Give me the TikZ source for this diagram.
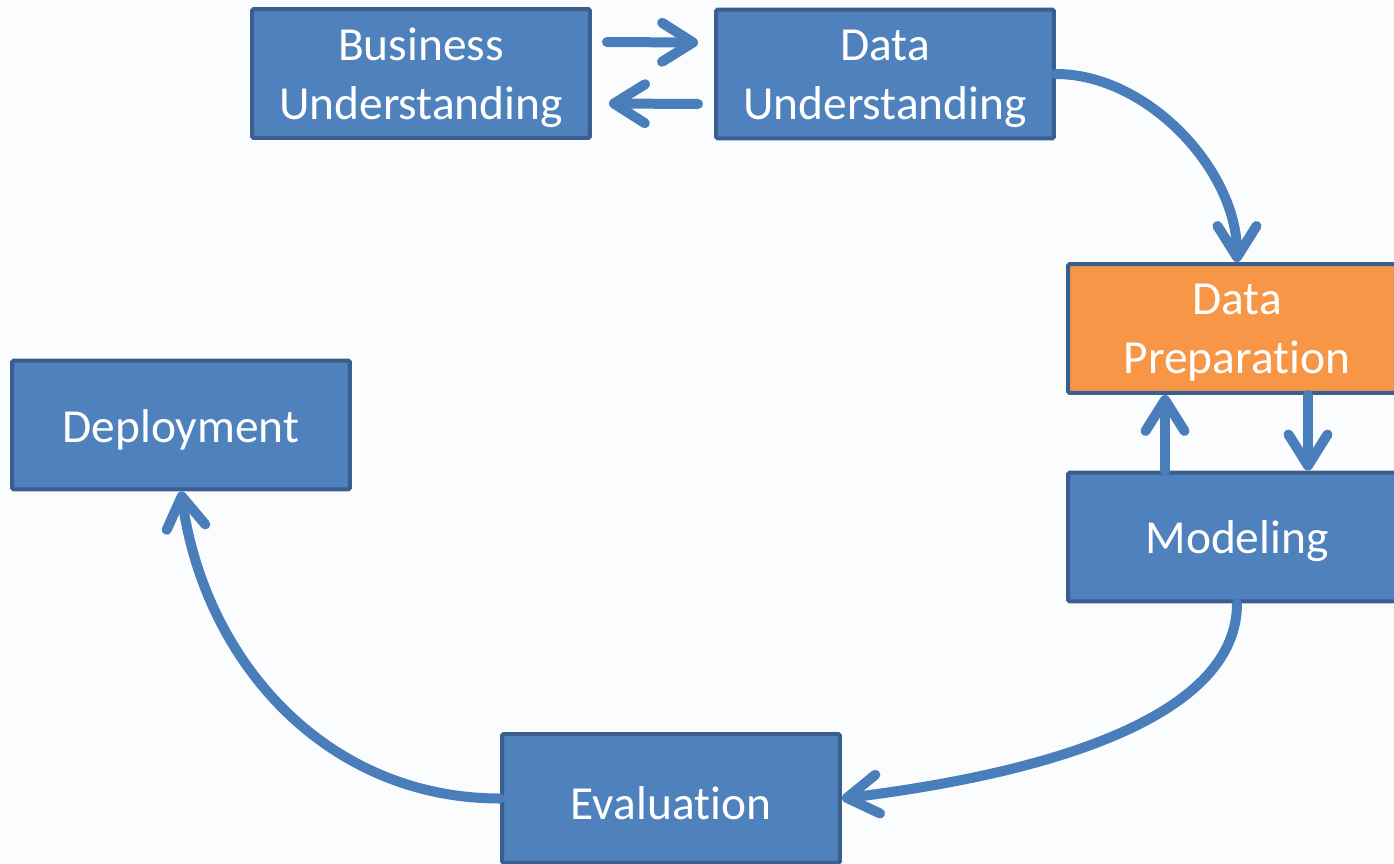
\documentclass[tikz,border=0pt]{standalone}
\usepackage{fontspec}
\setmainfont{Carlito}[RawFeature={-liga;-clig;-calt;-dlig;-rlig;-ccmp}]
\usetikzlibrary{arrows.meta}
\definecolor{boxblue}{HTML}{4F81BD}
\definecolor{boxedge}{HTML}{3A5F8E}
\definecolor{boxorange}{HTML}{F79646}
\definecolor{arrowblue}{HTML}{4A7EBB}
\definecolor{paper}{HTML}{FBFCFE}
% box text, set a little below the middle
\newcommand{\phasetext}[1]{\raisebox{-0.09cm}[\height][\depth]{\parbox{6.4cm}{\centering #1}}}
\begin{document}
\begin{tikzpicture}[x=0.02cm,y=-0.02cm,
    phase/.style={draw=boxedge,line width=0.08cm,fill=boxblue,rounded corners=1pt,
        minimum width=6.76cm,minimum height=2.58cm,inner sep=0pt,text=white,
        font=\fontsize{27}{33.5}\selectfont},
    flow/.style={draw=arrowblue,line width=0.2cm,line cap=round,
        -{Straight Barb[round,length=0.62cm,width=0.78cm]}}]
    \fill[paper] (0,0) rectangle (1394,863);
    \useasboundingbox (0,0) rectangle (1394,863);
    \node[phase] (bu) at (421,73.5) {\phasetext{Business\\Understanding}};
    \node[phase] (du) at (885,74) {\phasetext{Data\\Understanding}};
    \node[phase,fill=boxorange] (dp) at (1237,328.5) {\phasetext{Data\\Preparation}};
    \node[phase] (mo) at (1237,537) {\phasetext{Modeling}};
    \node[phase] (ev) at (671,798.5) {\phasetext{Evaluation}};
    \node[phase] (de) at (181,425) {\phasetext{Deployment}};
    % arrows between the boxes
    \draw[flow] ([xshift=0.3cm,yshift=0.63cm]bu.east) -- ([xshift=-0.32cm,yshift=0.63cm]du.west);
    \draw[flow] ([xshift=-0.32cm,yshift=-0.6cm]du.west) -- ([xshift=0.34cm,yshift=-0.6cm]bu.east);
    \draw[flow] (du.east) to[out=0,in=90,looseness=0.9] (dp.north);
    \draw[flow] ([xshift=1.42cm]dp.south) -- ([xshift=1.42cm]mo.north);
    \draw[flow] ([xshift=-1.44cm]mo.north) -- ([xshift=-1.44cm]dp.south);
    \draw[flow] (mo.south) to[out=-90,in=7,out distance=2.2cm,in distance=4.4cm] (ev.east);
    \draw[flow] (ev.west) to[out=180,in=-82] (de.south);
\end{tikzpicture}
\end{document}
